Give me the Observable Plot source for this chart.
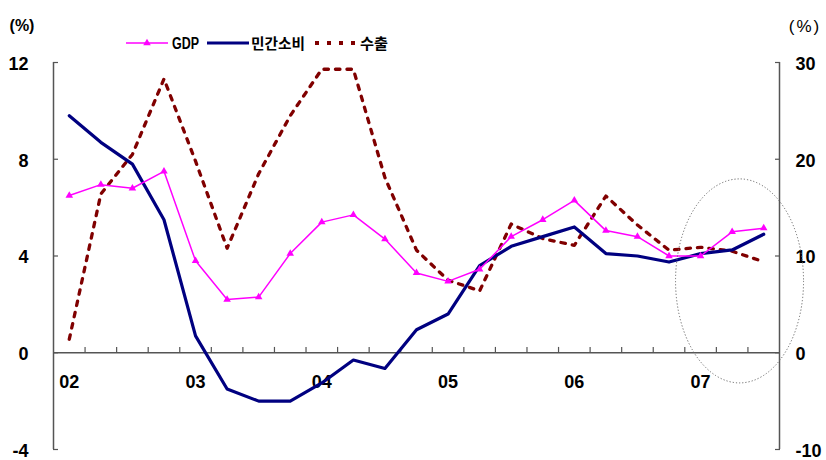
<!DOCTYPE html>
<html>
<head>
<meta charset="utf-8">
<script src="https://cdn.jsdelivr.net/npm/d3@7"></script>
<script src="https://cdn.jsdelivr.net/npm/@observablehq/plot@0.6"></script>
<style>
  html, body { margin: 0; padding: 0; background: #fff; }
  #wrap { position: relative; width: 826px; height: 460px; }
  #overlay { position: absolute; left: 0; top: 0; pointer-events: none; }
</style>
</head>
<body>
<div id="wrap">
  <div id="chart"></div>
  <svg id="overlay" width="826" height="60" font-family="Liberation Sans, Arial, sans-serif"></svg>
</div>
<script>
// Quarters 2002Q1 .. 2007Q3
const quarters = ["02Q1","02Q2","02Q3","02Q4","03Q1","03Q2","03Q3","03Q4","04Q1","04Q2","04Q3","04Q4",
                  "05Q1","05Q2","05Q3","05Q4","06Q1","06Q2","06Q3","06Q4","07Q1","07Q2","07Q3"];
const yearLabels = ["02","03","04","05","06","07"];
const yearIndex = [0, 4, 8, 12, 16, 20];
// GDP growth (left axis, %)
const gdp = [6.5, 6.95, 6.8, 7.5, 3.8, 2.2, 2.3, 4.1, 5.4, 5.7, 4.7, 3.3, 2.95, 3.45, 4.8, 5.5, 6.3, 5.05, 4.8, 4.0, 4.0, 5.0, 5.15];
// 민간소비 (left axis, %)
const consumption = [9.8, 8.7, 7.8, 5.5, 0.7, -1.5, -2.0, -2.0, -1.25, -0.3, -0.65, 0.95, 1.6, 3.6, 4.4, 4.8, 5.2, 4.1, 4.0, 3.75, 4.1, 4.25, 4.9];
// 수출 (right axis, %)
const exportsG = [1.4, 16.4, 20.5, 28.3, 19.8, 10.8, 18.5, 24.5, 29.3, 29.3, 18.1, 10.6, 7.5, 6.4, 13.3, 11.8, 11.1, 16.2, 13.2, 10.6, 10.9, 10.5, 9.4];
const leftTicks = [-4, 0, 4, 8, 12];
const rightScale = 2.5; // right axis value = left value * 2.5

const rows = quarters.map((q, i) => ({i, q, gdp: gdp[i], con: consumption[i], exp: exportsG[i] / rightScale}));
const boundaries = quarters.slice(1).map((_, i) => i + 0.5);
const years = yearLabels.map((label, k) => ({label, i: yearIndex[k]}));

const ellipseMark = (index, scales, values, dims, ctx) => {
  const e = document.createElementNS("http://www.w3.org/2000/svg", "ellipse");
  e.setAttribute("cx", scales.x(21.25));
  e.setAttribute("cy", scales.y(2.95));
  e.setAttribute("rx", 64);
  e.setAttribute("ry", 102);
  e.setAttribute("fill", "none");
  e.setAttribute("stroke", "#666");
  e.setAttribute("stroke-width", 1);
  e.setAttribute("stroke-dasharray", "1.2,2");
  return e;
};

const axisColor = "#555";
const chart = Plot.plot({
  width: 826,
  height: 460,
  marginLeft: 53,
  marginRight: 47,
  marginTop: 62,
  marginBottom: 11,
  style: {fontFamily: "Liberation Sans, Arial, sans-serif", background: "transparent", overflow: "visible"},
  x: {domain: [-0.5, quarters.length - 0.5], axis: null},
  y: {domain: [-4, 12], axis: null},
  marks: [
    // axis lines
    Plot.ruleX([-0.5, quarters.length - 0.5], {stroke: axisColor, strokeWidth: 1.5}),
    Plot.ruleY([0], {stroke: axisColor, strokeWidth: 1.5}),
    // x tick marks at quarter boundaries
    Plot.ruleX(boundaries, {y1: 0, y2: 0.22, stroke: axisColor, strokeWidth: 1.2}),
    // y ticks (inward)
    Plot.axisY({anchor: "left", ticks: leftTicks, tickSize: -5, tickFormat: () => "", stroke: axisColor, strokeWidth: 1.2}),
    Plot.axisY({anchor: "right", ticks: leftTicks, tickSize: -5, tickFormat: () => "", stroke: axisColor, strokeWidth: 1.2}),
    // y labels
    Plot.axisY({anchor: "left", ticks: leftTicks, tickSize: 0, tickPadding: 25, tickFormat: d => String(d),
      fontSize: 18, fontWeight: "bold", fill: "#000", dy: 1.5}),
    Plot.axisY({anchor: "right", ticks: leftTicks, tickSize: 0, tickPadding: 16, tickFormat: d => String(d * rightScale),
      fontSize: 18, fontWeight: "bold", fill: "#000", dy: 1.5}),
    // x year labels
    Plot.text(years, {x: "i", y: 0, text: "label", dy: 29, fontSize: 18, fontWeight: "bold", fill: "#000"}),
    // series
    Plot.line(rows, {x: "i", y: "exp", stroke: "#800000", strokeWidth: 3.3, strokeDasharray: "4.5,7"}),
    Plot.line(rows, {x: "i", y: "con", stroke: "#000080", strokeWidth: 3.2}),
    Plot.line(rows, {x: "i", y: "gdp", stroke: "#FF00FF", strokeWidth: 1.5}),
    Plot.dot(rows, {x: "i", y: "gdp", symbol: "triangle", r: 2.8, fill: "#FF00FF", stroke: "none"}),
    ellipseMark
  ]
});
document.getElementById("chart").appendChild(chart);

// legend & unit labels
const ov = d3.select("#overlay");
ov.append("text").attr("x", 22).attr("y", 31).attr("text-anchor", "middle")
  .attr("font-size", 16).attr("font-weight", "bold").text("(%)");
ov.append("text").attr("x", 805).attr("y", 32).attr("text-anchor", "middle")
  .attr("font-size", 17).attr("letter-spacing", 2).text("(%)");
const ly = 43;
ov.append("line").attr("x1", 126).attr("x2", 168).attr("y1", ly).attr("y2", ly).attr("stroke", "#FF00FF").attr("stroke-width", 1.5);
ov.append("path").attr("d", d3.symbol(d3.symbolTriangle, 2.8 * 2.8 * Math.PI)()).attr("transform", `translate(147,${ly})`).attr("fill", "#FF00FF");
ov.append("line").attr("x1", 207).attr("x2", 249).attr("y1", ly).attr("y2", ly).attr("stroke", "#000080").attr("stroke-width", 3);
ov.append("line").attr("x1", 315).attr("x2", 357).attr("y1", ly).attr("y2", ly).attr("stroke", "#800000").attr("stroke-width", 4).attr("stroke-dasharray", "4,8");
const legendFont = "'Liberation Sans', 'Noto Sans CJK KR', sans-serif";
ov.append("text").attr("x", 172).attr("y", ly + 5.5).attr("font-size", 16).attr("font-weight", "bold").attr("font-family", legendFont).attr("textLength", 27).attr("lengthAdjust", "spacingAndGlyphs").text("GDP");
ov.append("text").attr("x", 251).attr("y", ly + 5.5).attr("font-size", 15).attr("font-weight", "bold").attr("font-family", "'Noto Sans CJK KR', sans-serif").attr("textLength", 54).attr("lengthAdjust", "spacingAndGlyphs").text("민간소비");
ov.append("text").attr("x", 360).attr("y", ly + 5.5).attr("font-size", 15).attr("font-weight", "bold").attr("font-family", "'Noto Sans CJK KR', sans-serif").attr("textLength", 28).attr("lengthAdjust", "spacingAndGlyphs").text("수출");
</script>
</body>
</html>
